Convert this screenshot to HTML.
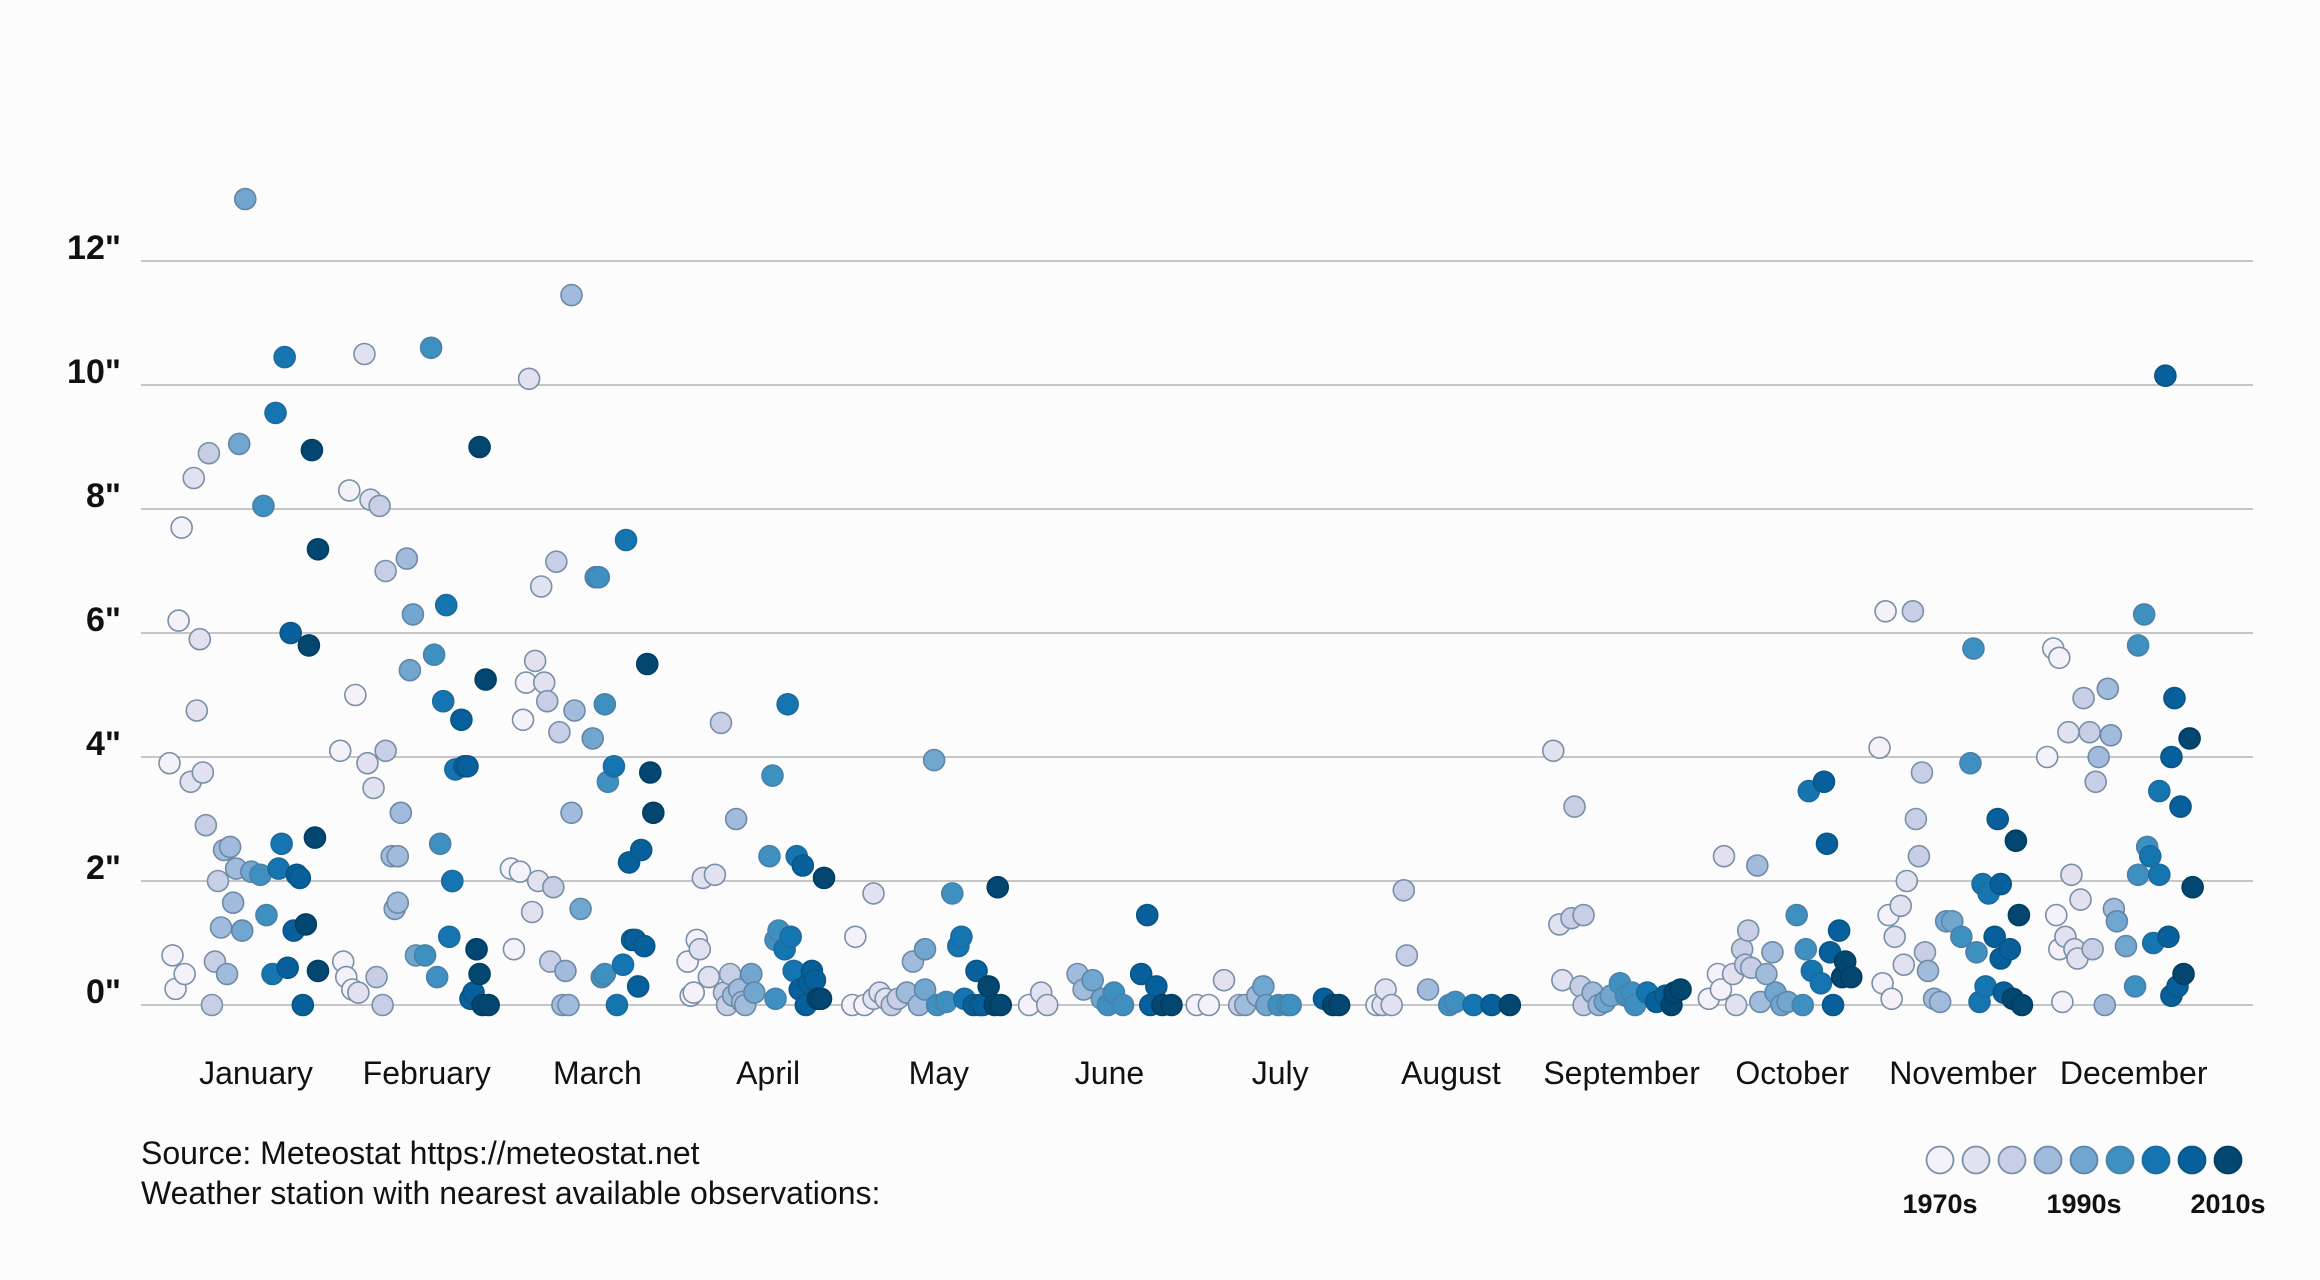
<!DOCTYPE html>
<html><head><meta charset="utf-8">
<style>
html,body{margin:0;padding:0;background:#fdfcfd;}
svg{display:block;font-family:"Liberation Sans",sans-serif;}
</style></head>
<body>
<svg id="chart" width="2320" height="1280" viewBox="0 0 2320 1280" xmlns="http://www.w3.org/2000/svg">
<rect width="2320" height="1280" fill="#fdfcfd"/>
<g id="grid"></g>
<g id="yaxis"></g>
<g id="xaxis"></g>
<g id="points"></g>
<text x="141" y="1164" font-size="32" fill="#111" font-weight="300">Source: Meteostat https://meteostat.net</text>
<text x="141" y="1204" font-size="32" fill="#111" font-weight="300">Weather station with nearest available observations:</text>
<g id="legend"></g>
</svg>
<script>
const months = ["January","February","March","April","May","June","July","August","September","October","November","December"];
const yTicks = [0,2,4,6,8,10,12];
const tickLabels = ['0"','2"','4"','6"','8"','10"','12"'];
const legendLabels = ["1970s","1990s","2010s"];
const obsYears = [
 [1970,1971,1972,1974,1973,1975,1978,1977,1979,1980,1981,1982,1983,1984,1985,1986,1987,1988,1989,1990,1991,1992,1993,1994,1995,1997,2001,2000,2002,2004,2005,2006,2007,2008,2009,2010,2011,2012,2013,2014,2015,2016,2017,2018,2019,2019],
 [1970,1971,1972,1973,1974,1975,1976,1978,1979,1980,1981,1982,1983,1984,1985,1985,1987,1988,1989,1989,1990,1992,1993,1994,1995,1998,2000,2001,2002,2003,2004,2005,2006,2007,2007,2008,2010,2011,2012,2013,2014,2015,2016,2016,2017,2018,2019],
 [1970,1971,1973,1974,1975,1976,1977,1978,1979,1980,1981,1982,1983,1984,1985,1986,1987,1988,1989,1990,1990,1991,1993,1997,1998,1999,2000,2001,2001,2002,2004,2005,2007,2008,2009,2010,2011,2012,2013,2014,2015,2016,2017],
 [1972,1973,1974,1975,1976,1977,1979,1981,1983,1984,1985,1986,1987,1988,1989,1990,1991,1993,1994,1999,2000,2001,2001,2002,2004,2005,2006,2007,2008,2009,2010,2011,2012,2013,2014,2015,2016,2017],
 [1970,1971,1974,1977,1977,1979,1981,1983,1985,1988,1990,1992,1994,1994,1997,1998,2001,2003,2005,2006,2007,2010,2011,2012,2013,2015,2017,2018,2019],
 [1972,1976,1978,1988,1990,1993,1996,1998,2000,2003,2009,2011,2012,2014,2016,2019],
 [1971,1975,1980,1985,1987,1991,1993,1994,1998,2001,2002,2013,2016,2018],
 [1974,1976,1977,1979,1983,1984,1991,1998,2000,2006,2012,2018],
 [1976,1978,1979,1982,1983,1985,1986,1986,1989,1991,1993,1995,1998,2000,2002,2003,2007,2010,2013,2015,2016,2018],
 [1971,1974,1975,1976,1979,1980,1982,1983,1984,1985,1987,1988,1990,1992,1993,1995,1997,2000,2002,2003,2004,2005,2008,2009,2010,2011,2012,2014,2015,2016,2018],
 [1971,1972,1973,1974,1975,1976,1978,1979,1980,1982,1983,1984,1985,1986,1987,1989,1991,1993,1995,1998,2001,2002,2003,2004,2005,2006,2007,2009,2010,2011,2011,2012,2014,2015,2016,2017,2018],
 [1970,1972,1973,1974,1974,1975,1976,1977,1978,1979,1980,1981,1982,1984,1985,1986,1987,1989,1990,1991,1992,1993,1996,1999,2000,2000,2002,2003,2004,2005,2007,2007,2009,2010,2011,2011,2012,2013,2014,2015,2017,2018]
];
const obsValues = [
 [3.9,0.8,0.26,7.7,6.2,0.5,8.5,3.6,4.75,5.9,3.75,2.9,8.9,0,0.7,2.0,1.25,2.5,0.5,2.55,1.65,2.2,9.05,1.2,13.0,2.15,8.05,2.1,1.45,0.5,9.55,2.2,2.6,10.45,0.6,6.0,1.2,2.1,2.05,0,1.3,5.8,8.95,2.7,7.35,0.55],
 [4.1,0.7,0.45,8.3,0.25,5.0,0.2,10.5,3.9,8.15,3.5,0.45,8.05,0,4.1,7.0,2.4,1.55,2.4,1.65,3.1,7.2,5.4,6.3,0.8,0.8,10.6,5.65,0.45,2.6,4.9,6.45,1.1,2.0,2.0,3.8,4.6,3.85,3.85,0.1,0.2,0.9,0.5,9.0,0,5.25,0],
 [2.2,0.9,2.15,4.6,5.2,10.1,1.5,5.55,2.0,6.75,5.2,4.9,0.7,1.9,7.15,4.4,0,0.55,0,3.1,11.45,4.75,1.55,4.3,6.9,6.9,0.45,4.85,0.5,3.6,3.85,0,0.65,7.5,2.3,1.05,1.05,0.3,2.5,0.95,5.5,3.75,3.1],
 [0.7,0.15,0.2,1.05,0.9,2.05,0.45,2.1,4.55,0.2,0,0.5,0.15,3.0,0.25,0.05,0,0.5,0.2,2.4,3.7,1.05,0.1,1.2,0.9,4.85,1.1,0.55,2.4,0.25,2.25,0,0.35,0.55,0.4,0.1,0.1,2.05],
 [0,1.1,0,1.8,0.1,0.2,0.1,0,0.1,0.2,0.7,0,0.25,0.9,3.95,0,0.05,1.8,0.95,1.1,0.1,0,0.55,0,0,0.3,0,1.9,0],
 [0,0.2,0,0.5,0.25,0.4,0.1,0,0.2,0,0.5,1.45,0,0.3,0,0],
 [0,0,0.4,0,0,0.15,0.3,0,0,0,0,0.1,0,0],
 [0,0,0.25,0,1.85,0.8,0.25,0,0.05,0,0,0],
 [4.1,1.3,0.4,1.4,3.2,0.3,1.45,0,0.2,0,0.05,0.15,0.35,0.15,0.2,0,0.2,0.05,0.15,0,0.2,0.25],
 [0.1,0.5,0.25,2.4,0.5,0,0.9,0.65,1.2,0.6,2.25,0.05,0.5,0.85,0.2,0,0.05,1.45,0,0.9,3.45,0.55,0.35,3.6,2.6,0.85,0,1.2,0.45,0.7,0.45],
 [4.15,0.35,6.35,1.45,0.1,1.1,1.6,0.65,2.0,6.35,3.0,2.4,3.75,0.85,0.55,0.1,0.05,1.35,1.35,1.1,3.9,5.75,0.85,0.05,1.95,0.3,1.8,1.1,3.0,1.95,0.75,0.2,0.9,0.1,2.65,1.45,0],
 [4.0,5.75,1.45,5.6,0.9,0.05,1.1,4.4,2.1,0.9,0.75,1.7,4.95,4.4,0.9,3.6,4.0,0,5.1,4.35,1.55,1.35,0.95,0.3,2.1,5.8,6.3,2.55,2.4,1.0,3.45,2.1,10.15,1.1,4.0,0.15,4.95,0.3,3.2,0.5,4.3,1.9]
];
const palette = ["#f4f1f8","#e1e1ef","#c7cee5","#a0bbdb","#71a7cf","#3e90c1","#1475b1","#07609b","#034670"];
const strokes = ["#7890a8","#7890a8","#7890a8","#6f8aa6","#5f86a8","#4b80a8","#1d6a9c","#0a5585","#023e62"];

const NS = "http://www.w3.org/2000/svg";
const y0 = 1005, pxPerInch = 62;
const xLeft = 141, xRight = 2253;
const bandStart = 169.5, bandWidth = 170.7, pxPerYear = 3.03;
function yScale(v){ return y0 - v*pxPerInch; }
function xScale(m, yr){ return bandStart + m*bandWidth + (yr-1970)*pxPerYear; }
function binOf(yr){ return Math.max(0, Math.min(8, Math.floor((yr-1970)/5.56))); }
function mk(tag, attrs){ const e=document.createElementNS(NS,tag); for(const k in attrs) e.setAttribute(k, attrs[k]); return e; }

const grid = document.getElementById('grid'), yax = document.getElementById('yaxis');
yTicks.forEach((t,i)=>{
  const l = mk('line',{x1:xLeft,x2:xRight,y1:yScale(t),y2:yScale(t),stroke:'#b4b4b8','stroke-width':1.5});
  
  
  grid.appendChild(l);
  const tx = mk('text',{x:121,y:yScale(t)-2,'text-anchor':'end','font-size':34,'font-weight':'600',fill:'#111'});
  
  
  tx.textContent = tickLabels[i];
  yax.appendChild(tx);
});
const xax = document.getElementById('xaxis');
months.forEach((m,i)=>{
  const tx = mk('text',{x:256+i*170.7,y:1084,'text-anchor':'middle','font-size':32,fill:'#111'});
  
  
  tx.textContent = m;
  xax.appendChild(tx);
});
const pts = document.getElementById('points');
obsYears.forEach((yrs,m)=>{
  yrs.forEach((yr,j)=>{
    const b = binOf(yr);
    const c = mk('circle',{cx:xScale(m,yr),cy:yScale(obsValues[m][j]),r:10.5,fill:palette[b],stroke:strokes[b],'stroke-width':1.6});
    
    
    pts.appendChild(c);
  });
});
const lg = document.getElementById('legend');
palette.forEach((col,i)=>{
  const c = mk('circle',{cx:1940+i*36,cy:1160,r:13.5,fill:col,stroke:strokes[i],'stroke-width':1.8});
  
  
  lg.appendChild(c);
});
legendLabels.forEach((s,i)=>{
  const tx = mk('text',{x:1940+i*144,y:1213,'text-anchor':'middle','font-size':27,'font-weight':'bold',fill:'#111'});
  
  
  tx.textContent = s;
  lg.appendChild(tx);
});
</script>
</body></html>
